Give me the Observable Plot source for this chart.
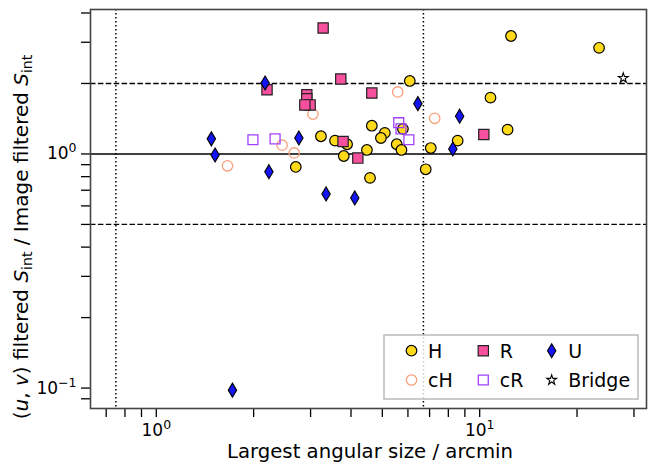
<!DOCTYPE html>
<html><head><meta charset="utf-8">
<script src="https://cdn.jsdelivr.net/npm/d3@7"></script>
<script src="https://cdn.jsdelivr.net/npm/@observablehq/plot@0.6"></script>
<style>body{margin:0;background:#fff}</style>
</head><body><div id="chart"></div>
<script>
// ---- data ----
const hX = [12.5, 23.4, 6.08, 10.8, 4.64, 12.2, 5.09, 5.79, 3.23, 3.57, 3.89, 4.95, 5.54, 5.73, 4.48, 3.80, 2.70, 4.58, 7.06, 6.81, 8.55];
const hY = [3.19, 2.84, 2.05, 1.74, 1.32, 1.27, 1.23, 1.28, 1.19, 1.14, 1.10, 1.17, 1.10, 1.04, 1.04, 0.98, 0.88, 0.79, 1.06, 0.86, 1.14];
const chX = [1.66, 2.45, 2.67, 3.05, 5.58, 7.26];
const chY = [0.89, 1.09, 1.01, 1.48, 1.84, 1.42];
const rX = [3.28, 3.72, 2.20, 4.64, 2.92, 2.92, 2.99, 2.88, 3.78, 4.20, 10.3];
const rY = [3.45, 2.09, 1.88, 1.82, 1.79, 1.72, 1.62, 1.62, 1.13, 0.96, 1.21];
const crX = [1.99, 2.33, 5.62, 5.71, 6.04];
const crY = [1.15, 1.16, 1.36, 1.28, 1.15];
const uX = [2.17, 1.48, 1.52, 2.23, 2.76, 3.35, 4.11, 6.44, 8.67, 8.26, 1.72];
const uY = [2.01, 1.16, 0.99, 0.84, 1.17, 0.675, 0.649, 1.64, 1.45, 1.05, 0.098];
const bX = [27.8];
const bY = [2.11];
const dashedLevels = [0.5, 2];
const unityLevel = [1];
const dottedSizes = [0.75, 6.7];
const xTicks = [0.7, 0.8, 0.9, 1, 2, 3, 4, 5, 6, 7, 8, 9, 10, 20, 30];
const yTicks = [0.09, 0.1, 0.2, 0.3, 0.4, 0.5, 0.6, 0.7, 0.8, 0.9, 1, 2, 3, 4];
const xTickLabels = new Map([[1, "10|0"], [10, "10|1"]]);
const yTickLabels = new Map([[0.1, "10|−1"], [1, "10|0"]]);
const legendLabels = ["H", "cH", "R", "cR", "U", "Bridge"];

const zip = (xs, ys) => xs.map((x, i) => ({x, y: ys[i]}));

const thinDiamond = {
  draw(ctx, size) {
    const r = Math.sqrt(size / Math.PI);
    const h = r * 1.25, w = r * 0.75;
    ctx.moveTo(0, -h); ctx.lineTo(w, 0); ctx.lineTo(0, h); ctx.lineTo(-w, 0); ctx.closePath();
  }
};

const styles = {
  H: {symbol: "circle", r: 5.3, fill: "#ffd91a", stroke: "black", strokeWidth: 1.2},
  cH: {symbol: "circle", r: 5.2, fill: "none", stroke: "#f7a07c", strokeWidth: 1.3},
  R: {symbol: "square", r: 5.8, fill: "#f7509f", stroke: "#222", strokeWidth: 1.2},
  cR: {symbol: "square", r: 5.6, fill: "none", stroke: "#a040ff", strokeWidth: 1.3},
  U: {symbol: thinDiamond, r: 5.6, fill: "#1414f5", stroke: "black", strokeWidth: 1.1},
  Bridge: {symbol: "star", r: 3.1, fill: "white", stroke: "black", strokeWidth: 1.1}
};

const W = 649, H = 462;
const mL = 90, mR = 3, mT = 9, mB = 54;

const plot = Plot.plot({
  width: W, height: H,
  marginLeft: mL, marginRight: mR, marginTop: mT, marginBottom: mB,
  style: {fontFamily: "DejaVu Sans", fontSize: "17px", background: "white", color: "black"},
  x: {type: "log", domain: [0.626, 32.8]},
  y: {type: "log", domain: [0.0818, 4.14]},
  marks: [
    Plot.ruleY(dashedLevels, {stroke: "black", strokeWidth: 1.3, strokeDasharray: "5.5,2.4"}),
    Plot.ruleY(unityLevel, {stroke: "black", strokeWidth: 1.5}),
    Plot.ruleX(dottedSizes, {stroke: "black", strokeWidth: 1.5, strokeDasharray: "1.5,2.5"}),
    Plot.dot(zip(hX, hY), {x: "x", y: "y", ...styles.H}),
    Plot.dot(zip(chX, chY), {x: "x", y: "y", ...styles.cH}),
    Plot.dot(zip(rX, rY), {x: "x", y: "y", ...styles.R}),
    Plot.dot(zip(crX, crY), {x: "x", y: "y", ...styles.cR}),
    Plot.dot(zip(uX, uY), {x: "x", y: "y", ...styles.U}),
    Plot.dot(zip(bX, bY), {x: "x", y: "y", ...styles.Bridge}),
    Plot.axisX({ticks: xTicks, tickFormat: d => xTickLabels.get(d) ?? "", tickSize: 9, tickPadding: 6, strokeWidth: 1.3, label: null}),
    Plot.axisY({ticks: yTicks, tickFormat: d => yTickLabels.get(d) ?? "", tickSize: 9, tickPadding: 5, strokeWidth: 1.3, label: null}),
    Plot.frame({stroke: "#444", strokeWidth: 1.6})
  ]
});

const svg = d3.select(plot);

// render tick labels as 10 with a real superscript
svg.selectAll("text").each(function() {
  const t = this.textContent;
  if (!t.includes("|")) return;
  const [base, exp] = t.split("|");
  const el = d3.select(this);
  el.selectAll("*").remove();
  el.text(null);
  el.append("tspan").text(base);
  el.append("tspan").attr("font-size", "12.5px").attr("dy", "-7").text(exp);
});

// axis titles
svg.append("text")
  .attr("x", mL + (W - mL - mR) / 2 + 2).attr("y", 458)
  .attr("text-anchor", "middle").attr("font-size", "19.7px").attr("font-family", "DejaVu Sans")
  .attr("fill", "black")
  .text("Largest angular size / arcmin");

const yl = svg.append("text")
  .attr("transform", "translate(28,237) rotate(-90)")
  .attr("text-anchor", "middle").attr("font-size", "20px").attr("font-family", "DejaVu Sans")
  .attr("fill", "black");
const parts = [
  ["(", {}], ["u", {it: true}], [", ", {}], ["v", {it: true}], [") filtered ", {}],
  ["S", {it: true}], ["int", {sub: true}], [" / Image filtered ", {}], ["S", {it: true}], ["int", {sub: true}]
];
let shifted = false;
for (const [t, o] of parts) {
  const ts = yl.append("tspan").text(t);
  if (o.it) ts.attr("font-style", "italic");
  if (o.sub) { ts.attr("font-size", "14px").attr("dy", 4); shifted = true; }
  else if (shifted) { ts.attr("dy", -4); shifted = false; }
}

// legend
const lg = svg.append("g");
lg.append("rect").attr("x", 384).attr("y", 335).attr("width", 254).attr("height", 64)
  .attr("fill", "white").attr("fill-opacity", 0.8).attr("stroke", "#b0b0b0").attr("stroke-width", 1.3);
const symType = s => s === "circle" ? d3.symbolCircle : s === "square" ? d3.symbolSquare : s === "star" ? d3.symbolStar : s;
const cols = [411.5, 483.3, 551.7];
const rows = [350.7, 380];
legendLabels.forEach((lab, i) => {
  const c = Math.floor(i / 2), r = i % 2;
  const st = styles[lab];
  lg.append("path")
    .attr("d", d3.symbol(symType(st.symbol), st.r * st.r * Math.PI)())
    .attr("transform", `translate(${cols[c]},${rows[r]})`)
    .attr("fill", st.fill).attr("stroke", st.stroke).attr("stroke-width", st.strokeWidth);
  lg.append("text").attr("x", cols[c] + 16.5).attr("y", rows[r]).attr("dy", "0.36em")
    .attr("text-anchor", "start")
    .attr("font-size", "19px").attr("font-family", "DejaVu Sans").attr("fill", "black").text(lab);
});

document.getElementById("chart").appendChild(plot);
</script></body></html>
